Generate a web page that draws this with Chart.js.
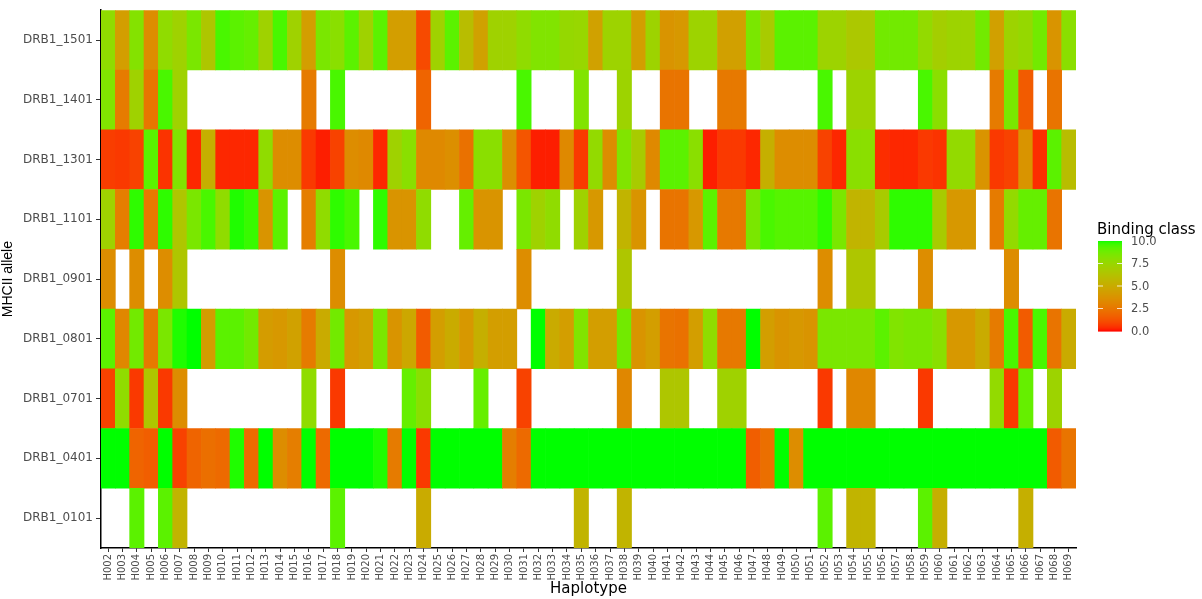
<!DOCTYPE html>
<html>
<head>
<meta charset="utf-8">
<script src="https://cdn.jsdelivr.net/npm/chart.js@4.4.1/dist/chart.umd.min.js"></script>
<style>
  html, body { margin: 0; padding: 0; background: #fff; }
  #wrap { width: 1202px; height: 599px; }
</style>
</head>
<body>
<div id="wrap"><canvas id="heat" width="1202" height="599"></canvas></div>
<script>
const _ = null;

const haplotypes = [
    'H002','H003','H004','H005','H006','H007','H008','H009','H010','H011','H012','H013','H014','H015','H016','H017','H018',
    'H019','H020','H021','H022','H023','H024','H025','H026','H027','H028','H029','H030','H031','H032','H033','H034','H035',
    'H036','H037','H038','H039','H040','H041','H042','H043','H044','H045','H046','H047','H048','H049','H050','H051',
    'H052','H053','H054','H055','H056','H057','H058','H059','H060','H061','H062','H063','H064','H065','H066','H067','H068','H069'
];

// bottom to top
const alleles = ['DRB1_0101','DRB1_0401','DRB1_0701','DRB1_0801','DRB1_0901','DRB1_1101','DRB1_1301','DRB1_1401','DRB1_1501'];

const drb1_1501 = [
    7.8, 4.3, 8.2, 3.5, 7.8, 7.2, 8.5, 6.5, 9.5, 9.2, 9.0, 7.2, 9.5, 7.2, 4.3, 8.5, 8.0,
    9.2, 7.2, 9.2, 4.3, 4.3, 1.0, 7.2, 9.2, 6.0, 4.5, 7.2, 7.2, 7.8, 8.3, 8.3, 7.6, 7.5,
    4.5, 7.3, 7.3, 4.3, 7.3, 3.8, 4.0, 7.3, 7.3, 4.4, 4.4, 8.5, 6.8, 9.2, 9.2, 9.2,
    7.3, 7.3, 6.6, 6.6, 8.7, 8.7, 8.7, 7.7, 7.0, 7.3, 7.3, 8.7, 4.4, 7.3, 7.6, 8.7, 3.8, 8.0
];
const drb1_1401 = [
    8.3, 2.7, 7.2, 2.5, 9.5, 7.2, _, _, _, _, _, _, _, _, 2.7, _, 9.5,
    _, _, _, _, _, 1.8, _, _, _, _, _, _, 9.5, _, _, _, 8.3,
    _, _, 7.3, _, _, 2.4, 2.4, _, _, 2.6, 2.6, _, _, _, _, _,
    9.5, _, 7.3, 7.3, _, _, _, 9.5, 8.0, _, _, _, 2.7, 8.5, 1.5, _, 2.4, _
];
const drb1_1301 = [
    0.7, 0.6, 0.8, 9.2, 0.5, 8.3, 0.3, 5.2, 0.3, 0.3, 0.3, 7.8, 3.5, 3.5, 0.6, 0.2, 0.8,
    3.5, 3.3, 0.3, 7.2, 8.0, 3.3, 3.3, 3.6, 2.3, 8.0, 8.0, 3.6, 1.3, 0.2, 0.2, 3.3, 0.6,
    7.7, 3.5, 8.3, 6.8, 3.3, 9.2, 9.2, 8.0, 0.2, 0.6, 0.6, 0.3, 5.2, 3.5, 3.5, 3.5,
    0.8, 0.3, 8.0, 8.0, 0.4, 0.3, 0.3, 0.6, 0.5, 7.7, 7.7, 3.8, 0.6, 0.8, 3.8, 0.4, 9.2, 6.0
];
const drb1_1101 = [
    7.2, 2.8, 9.8, 2.6, 9.8, 6.5, 8.5, 9.5, 7.8, 9.9, 9.7, 3.8, 9.2, _, 2.8, 7.8, 9.8,
    9.5, _, 9.8, 3.8, 3.8, 7.8, _, _, 9.0, 3.8, 3.8, _, 8.5, 7.2, 7.8, _, 7.2,
    4.0, _, 5.5, 3.8, _, 2.4, 2.4, 4.0, 9.2, 2.6, 2.6, 8.5, 9.5, 9.3, 9.3, 9.3,
    9.8, 8.5, 5.5, 5.5, 6.8, 9.8, 9.8, 9.8, 6.8, 4.0, 4.0, _, 2.7, 7.7, 9.0, 9.0, 2.4, _
];
const drb1_0901 = [
    3.5, _, 3.5, _, 3.5, 6.5, _, _, _, _, _, _, _, _, _, _, 3.5,
    _, _, _, _, _, _, _, _, _, _, _, _, 3.5, _, _, _, _,
    _, _, 6.5, _, _, _, _, _, _, _, _, _, _, _, _, _,
    3.5, _, 6.5, 6.5, _, _, _, 3.5, _, _, _, _, _, 3.5, _, _, _, _
];
const drb1_0801 = [
    9.2, 3.2, 8.7, 2.6, 8.5, 9.9, 10, 4.2, 9.2, 9.2, 8.7, 4.2, 4.0, 4.5, 2.7, 5.0, 8.7,
    4.0, 4.3, 8.5, 3.8, 4.8, 1.5, 4.3, 5.0, 4.0, 5.2, 4.3, 4.3, _, 10, 5.0, 4.3, 8.3,
    4.3, 4.3, 8.7, 3.8, 4.3, 2.4, 2.3, 4.3, 7.8, 2.6, 2.6, 10, 4.3, 3.8, 4.0, 3.8,
    8.5, 8.5, 8.5, 8.5, 9.2, 8.3, 8.5, 8.5, 8.0, 4.0, 4.0, 5.0, 2.7, 9.5, 1.5, 9.5, 2.4, 5.0
];
const drb1_0701 = [
    0.8, 7.8, 0.6, 6.5, 0.6, 3.5, _, _, _, _, _, _, _, _, 7.8, _, 0.6,
    _, _, _, _, 9.0, 8.0, _, _, _, 9.0, _, _, 0.8, _, _, _, _,
    _, _, 3.2, _, _, 6.5, 6.5, _, _, 7.2, 7.2, _, _, _, _, _,
    0.6, _, 3.2, 3.2, _, _, _, 0.6, _, _, _, _, 7.7, 0.6, 9.0, _, 7.3, _
];
const drb1_0401 = [
    10, 10, 1.8, 1.6, 10, 0.8, 1.8, 2.2, 2.0, 9.9, 2.0, 10, 3.5, 2.8, 10, 2.0, 10,
    10, 10, 9.9, 2.7, 10, 0.6, 10, 10, 10, 10, 10, 2.8, 2.0, 10, 10, 10, 10,
    10, 10, 10, 10, 10, 10, 10, 10, 10, 10, 10, 1.6, 2.2, 10, 3.5, 10,
    10, 10, 10, 10, 10, 10, 10, 10, 10, 10, 10, 10, 10, 10, 10, 10, 1.5, 2.4
];
const drb1_0101 = [
    _, _, 9.2, _, 9.2, 5.5, _, _, _, _, _, _, _, _, _, _, 9.2,
    _, _, _, _, _, 5.0, _, _, _, _, _, _, _, _, _, _, 5.5,
    _, _, 5.5, _, _, _, _, _, _, _, _, _, _, _, _, _,
    9.2, _, 5.5, 5.5, _, _, _, 9.2, 5.2, _, _, _, _, _, 5.2, _, _, _
];

const rows = [drb1_0101, drb1_0401, drb1_0701, drb1_0801, drb1_0901, drb1_1101, drb1_1301, drb1_1401, drb1_1501];

const legendTicks = [10, 7.5, 5, 2.5, 0];

// red -> green gradient interpolated in Lab, like ggplot's scale_fill_gradient
function toLinear(c) {
    c = c / 255;
    return c <= 0.04045 ? c / 12.92 : Math.pow((c + 0.055) / 1.055, 2.4);
}
function fromLinear(c) {
    c = Math.max(0, Math.min(1, c));
    const s = c <= 0.0031308 ? 12.92 * c : 1.055 * Math.pow(c, 1 / 2.4) - 0.055;
    return Math.round(s * 255);
}
function rgbToLab(rgb) {
    const r = toLinear(rgb[0]), g = toLinear(rgb[1]), b = toLinear(rgb[2]);
    const x = (0.4124 * r + 0.3576 * g + 0.1805 * b) / 0.95047;
    const y = (0.2126 * r + 0.7152 * g + 0.0722 * b);
    const z = (0.0193 * r + 0.1192 * g + 0.9505 * b) / 1.08883;
    const f = t => t > 0.008856 ? Math.cbrt(t) : 7.787 * t + 16 / 116;
    const fx = f(x), fy = f(y), fz = f(z);
    return [116 * fy - 16, 500 * (fx - fy), 200 * (fy - fz)];
}
function labToRgb(lab) {
    const fy = (lab[0] + 16) / 116;
    const fx = fy + lab[1] / 500;
    const fz = fy - lab[2] / 200;
    const inv = t => t * t * t > 0.008856 ? t * t * t : (t - 16 / 116) / 7.787;
    const x = inv(fx) * 0.95047, y = inv(fy), z = inv(fz) * 1.08883;
    const r = 3.2406 * x - 1.5372 * y - 0.4986 * z;
    const g = -0.9689 * x + 1.8758 * y + 0.0415 * z;
    const b = 0.0557 * x - 0.2040 * y + 1.0570 * z;
    return [fromLinear(r), fromLinear(g), fromLinear(b)];
}
const labLow = rgbToLab([255, 0, 0]);
const labHigh = rgbToLab([0, 255, 0]);

function binColor(v) {
    const t = Math.max(0, Math.min(1, v / 10));
    const lab = [0, 1, 2].map(i => labLow[i] + (labHigh[i] - labLow[i]) * t);
    const c = labToRgb(lab);
    return `rgb(${c[0]},${c[1]},${c[2]})`;
}

const datasets = rows.map((vals, k) => ({
    label: alleles[k],
    data: vals.map(v => v === null ? null : [k, k + 1]),
    backgroundColor: vals.map(v => v === null ? 'rgba(0,0,0,0)' : binColor(v)),
    borderWidth: 0,
    barPercentage: 1,
    categoryPercentage: 1,
    grouped: false
}));

const colorbarLegend = {
    id: 'colorbarLegend',
    afterDraw(chart) {
        const c = chart.ctx;
        const x = 1098, w = 24, top = 241, bottom = 331;
        c.save();
        c.fillStyle = '#000';
        c.font = '15px "DejaVu Sans"';
        c.textBaseline = 'middle';
        c.textAlign = 'left';
        c.fillText('Binding class', 1097, 230);
        const steps = 90;
        for (let i = 0; i < steps; i++) {
            const v = 10 * (1 - (i + 0.5) / steps);
            c.fillStyle = binColor(v);
            c.fillRect(x, top + (bottom - top) * i / steps, w, (bottom - top) / steps + 0.6);
        }
        c.font = '11.5px "DejaVu Sans"';
        c.fillStyle = '#4d4d4d';
        legendTicks.forEach(v => {
            const y = bottom - (bottom - top) * v / 10;
            if (v > 0 && v < 10) {
                c.strokeStyle = 'rgba(255,255,255,0.8)';
                c.lineWidth = 1;
                c.beginPath();
                c.moveTo(x, y); c.lineTo(x + 5, y);
                c.moveTo(x + w - 5, y); c.lineTo(x + w, y);
                c.stroke();
            }
            c.fillText(v.toFixed(1), 1131, y + 1);
        });
        c.restore();
    }
};

const ctx = document.getElementById('heat').getContext('2d');
const chart = new Chart(ctx, {
    type: 'bar',
    data: { labels: haplotypes, datasets: datasets },
    options: {
        responsive: false,
        animation: false,
        layout: { padding: { left: 0, right: 126, top: 8, bottom: 0 } },
        plugins: {
            legend: { display: false },
            tooltip: { enabled: false }
        },
        scales: {
            x: {
                type: 'category',
                offset: true,
                grid: { display: true, drawOnChartArea: false, drawTicks: true, tickLength: 4, offset: false, color: '#333' },
                border: { display: true, color: '#000', width: 1.5 },
                ticks: {
                    autoSkip: false, minRotation: 90, maxRotation: 90, padding: 2,
                    color: '#4d4d4d', font: { family: 'DejaVu Sans', size: 10 }
                },
                title: { display: true, text: 'Haplotype', color: '#000', padding: { top: 0, bottom: 1 },
                         font: { family: 'DejaVu Sans', size: 15 } },
                afterFit(axis) { axis.height = 51; }
            },
            y: {
                type: 'linear',
                min: 0,
                max: 9,
                grid: { display: true, drawOnChartArea: false, drawTicks: true, tickLength: 5, color: '#333' },
                border: { display: true, color: '#000', width: 1.5 },
                afterBuildTicks(axis) {
                    axis.ticks = alleles.map((a, k) => ({ value: k + 0.5 }));
                },
                ticks: {
                    padding: 3,
                    color: '#4d4d4d',
                    font: { family: 'DejaVu Sans', size: 12 },
                    callback: (v) => alleles[Math.round(v - 0.5)]
                },
                title: { display: true, text: 'MHCII allele', color: '#000', padding: { top: 0, bottom: 0 },
                         font: { family: 'Liberation Sans Narrow, Liberation Sans', size: 14 } },
                afterFit(axis) { axis.width = 101; }
            }
        }
    },
    plugins: [colorbarLegend]
});
</script>
</body>
</html>
